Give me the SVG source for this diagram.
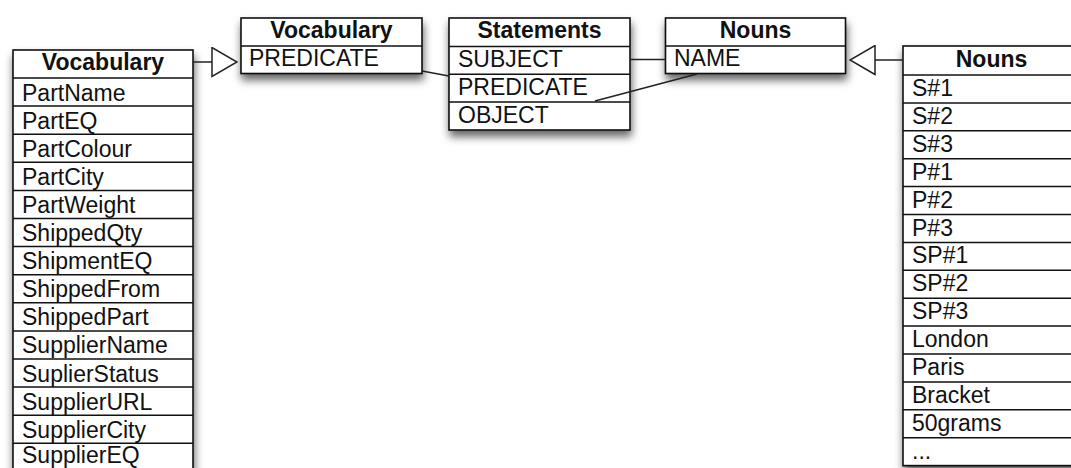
<svg xmlns="http://www.w3.org/2000/svg" width="1071" height="468" viewBox="0 0 1071 468">
  <defs>
    <filter id="shadow" x="-20%" y="-20%" width="140%" height="150%">
      <feDropShadow dx="1" dy="6" stdDeviation="4.5" flood-color="#000" flood-opacity="0.6"/>
    </filter>
    <!-- hollow triangle used for generalisation arrows -->
    <marker id="hollow" markerUnits="userSpaceOnUse" markerWidth="27" markerHeight="31" refX="25" refY="14.5" orient="auto" viewBox="-1 -1 27 31">
      <path d="M0,0 L25,14.5 L0,29 Z" fill="#fff" stroke="#222" stroke-width="1.5"/>
    </marker>
  </defs>
  <style>
    .box { fill: #fff; stroke: #111; stroke-width: 1.6; }
    .sep { stroke: #111; stroke-width: 1.5; }
    .hd { font-family: "Liberation Sans", Arial, sans-serif; font-size: 23px; font-weight: bold; fill: #111; text-anchor: middle; }
    .tx { font-family: "Liberation Sans", Arial, sans-serif; font-size: 23px; fill: #111; }
    .conn { stroke: #222; stroke-width: 1.5; fill: none; }
  </style>

  <rect width="1071" height="468" fill="#fff"/>

  <!-- Vocabulary (full list) -->
  <g id="vocabulary-list">
    <rect class="box" x="13" y="50" width="180" height="422" filter="url(#shadow)"/>
    <g class="sep">
      <line x1="13" y1="78" x2="193" y2="78"/>
      <line x1="13" y1="106.1" x2="193" y2="106.1"/>
      <line x1="13" y1="134.2" x2="193" y2="134.2"/>
      <line x1="13" y1="162.3" x2="193" y2="162.3"/>
      <line x1="13" y1="190.4" x2="193" y2="190.4"/>
      <line x1="13" y1="218.5" x2="193" y2="218.5"/>
      <line x1="13" y1="246.6" x2="193" y2="246.6"/>
      <line x1="13" y1="274.7" x2="193" y2="274.7"/>
      <line x1="13" y1="302.8" x2="193" y2="302.8"/>
      <line x1="13" y1="330.9" x2="193" y2="330.9"/>
      <line x1="13" y1="359" x2="193" y2="359"/>
      <line x1="13" y1="387.1" x2="193" y2="387.1"/>
      <line x1="13" y1="415.2" x2="193" y2="415.2"/>
      <line x1="13" y1="443.3" x2="193" y2="443.3"/>
    </g>
    <text class="hd" x="103" y="70">Vocabulary</text>
    <text class="tx" x="22" y="100.5">PartName</text>
    <text class="tx" x="22" y="128.6">PartEQ</text>
    <text class="tx" x="22" y="156.7">PartColour</text>
    <text class="tx" x="22" y="184.8">PartCity</text>
    <text class="tx" x="22" y="212.9">PartWeight</text>
    <text class="tx" x="22" y="241">ShippedQty</text>
    <text class="tx" x="22" y="269.1">ShipmentEQ</text>
    <text class="tx" x="22" y="297.2">ShippedFrom</text>
    <text class="tx" x="22" y="325.3">ShippedPart</text>
    <text class="tx" x="22" y="353.4">SupplierName</text>
    <text class="tx" x="22" y="381.5">SuplierStatus</text>
    <text class="tx" x="22" y="409.6">SupplierURL</text>
    <text class="tx" x="22" y="437.7">SupplierCity</text>
    <text class="tx" x="22" y="463">SupplierEQ</text>
  </g>

  <!-- Vocabulary (PREDICATE) -->
  <g id="vocabulary">
    <rect class="box" x="241" y="18" width="181" height="55.5" filter="url(#shadow)"/>
    <line class="sep" x1="241" y1="46" x2="422" y2="46"/>
    <text class="hd" x="331.5" y="38">Vocabulary</text>
    <text class="tx" x="249" y="66">PREDICATE</text>
  </g>

  <!-- Statements -->
  <g id="statements">
    <rect class="box" x="449" y="18" width="181" height="112" filter="url(#shadow)"/>
    <g class="sep">
      <line x1="449" y1="46.5" x2="630" y2="46.5"/>
      <line x1="449" y1="74.3" x2="630" y2="74.3"/>
      <line x1="449" y1="102" x2="630" y2="102"/>
    </g>
    <text class="hd" x="539.5" y="38">Statements</text>
    <text class="tx" x="458" y="67">SUBJECT</text>
    <text class="tx" x="458" y="94.8">PREDICATE</text>
    <text class="tx" x="458" y="122.5">OBJECT</text>
  </g>

  <!-- Nouns (NAME) -->
  <g id="nouns">
    <rect class="box" x="665.5" y="18" width="180" height="55.5" filter="url(#shadow)"/>
    <line class="sep" x1="665.5" y1="46" x2="845.5" y2="46"/>
    <text class="hd" x="755.5" y="38">Nouns</text>
    <text class="tx" x="674" y="66">NAME</text>
  </g>

  <!-- Nouns (full list) -->
  <g id="nouns-list">
    <rect class="box" x="903" y="46" width="180" height="419.6" filter="url(#shadow)"/>
    <g class="sep">
      <line x1="903" y1="75" x2="1083" y2="75"/>
      <line x1="903" y1="102.9" x2="1083" y2="102.9"/>
      <line x1="903" y1="130.8" x2="1083" y2="130.8"/>
      <line x1="903" y1="158.7" x2="1083" y2="158.7"/>
      <line x1="903" y1="186.6" x2="1083" y2="186.6"/>
      <line x1="903" y1="214.5" x2="1083" y2="214.5"/>
      <line x1="903" y1="242.4" x2="1083" y2="242.4"/>
      <line x1="903" y1="270.3" x2="1083" y2="270.3"/>
      <line x1="903" y1="298.2" x2="1083" y2="298.2"/>
      <line x1="903" y1="326.1" x2="1083" y2="326.1"/>
      <line x1="903" y1="354" x2="1083" y2="354"/>
      <line x1="903" y1="381.9" x2="1083" y2="381.9"/>
      <line x1="903" y1="409.8" x2="1083" y2="409.8"/>
      <line x1="903" y1="437.7" x2="1083" y2="437.7"/>
    </g>
    <text class="hd" x="991.5" y="67">Nouns</text>
    <text class="tx" x="912" y="96">S#1</text>
    <text class="tx" x="912" y="123.9">S#2</text>
    <text class="tx" x="912" y="151.8">S#3</text>
    <text class="tx" x="912" y="179.7">P#1</text>
    <text class="tx" x="912" y="207.6">P#2</text>
    <text class="tx" x="912" y="235.5">P#3</text>
    <text class="tx" x="912" y="263.4">SP#1</text>
    <text class="tx" x="912" y="291.3">SP#2</text>
    <text class="tx" x="912" y="319.2">SP#3</text>
    <text class="tx" x="912" y="347.1">London</text>
    <text class="tx" x="912" y="375">Paris</text>
    <text class="tx" x="912" y="402.9">Bracket</text>
    <text class="tx" x="912" y="430.8">50grams</text>
    <text class="tx" x="912" y="458.7">...</text>
  </g>

  <!-- connectors -->
  <g id="connectors">
    <line class="conn" x1="193" y1="62" x2="237" y2="62" marker-end="url(#hollow)"/>
    <line class="conn" x1="903" y1="60" x2="850" y2="60" marker-end="url(#hollow)"/>
    <line class="conn" x1="422" y1="71" x2="449" y2="76"/>
    <line class="conn" x1="630" y1="59.5" x2="665.5" y2="59.5"/>
    <line class="conn" x1="595" y1="101" x2="697" y2="74"/>
  </g>
</svg>
